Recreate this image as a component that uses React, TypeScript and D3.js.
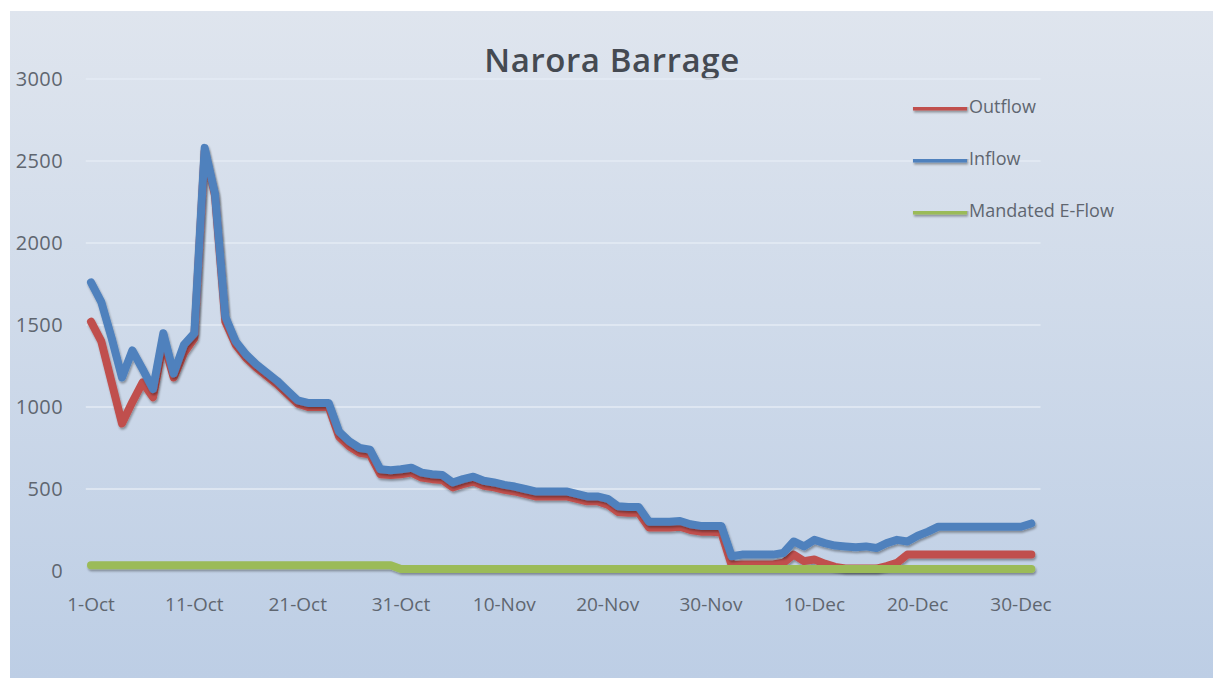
import React from "react";
import * as d3 from "d3";

const title = "Narora Barrage";
const startDate = new Date(2016, 9, 1);
const endDate = new Date(2016, 11, 31);
const dates: Date[] = d3.timeDay.range(startDate, d3.timeDay.offset(endDate, 1));

const xTickLabels = ["1-Oct", "11-Oct", "21-Oct", "31-Oct", "10-Nov", "20-Nov", "30-Nov", "10-Dec", "20-Dec", "30-Dec"];
const xTickDates = [
  new Date(2016, 9, 1), new Date(2016, 9, 11), new Date(2016, 9, 21), new Date(2016, 9, 31),
  new Date(2016, 10, 10), new Date(2016, 10, 20), new Date(2016, 10, 30),
  new Date(2016, 11, 10), new Date(2016, 11, 20), new Date(2016, 11, 30),
];
const yTicks = [0, 500, 1000, 1500, 2000, 2500, 3000];

const outflow = [
  1520, 1400, 1150, 900, 1030, 1150, 1060, 1400, 1180, 1330, 1420, 2560, 2290, 1520,
  1380, 1300, 1240, 1190, 1140, 1080, 1020, 1000, 1000, 1000,
  820, 760, 720, 710, 590, 585, 590, 600,
  570, 560, 555, 510, 530, 545, 520, 510, 495, 485,
  470, 455, 455, 455, 455, 440, 425, 425, 405,
  360, 355, 355, 265, 265, 265, 270, 250, 240, 240, 235,
  35, 40, 40, 40, 40, 50, 100, 60, 70, 45,
  25, 15, 15, 15, 15, 30, 50, 100, 100, 100,
  100, 100, 100, 100, 100, 100, 100, 100, 100, 100,
];

const inflow = [
  1760, 1640, 1420, 1180, 1345, 1230, 1110, 1450, 1205, 1380, 1450,
  2580, 2300, 1550, 1400, 1320, 1260, 1210, 1160, 1100, 1040, 1025, 1025, 1025,
  850, 790, 750, 740, 620, 615, 620, 630,
  600, 590, 585, 540, 560, 575, 550, 540, 525, 515,
  500, 485, 485, 485, 485, 470, 455, 455, 440,
  395, 390, 390, 300, 300, 300, 305, 285, 275, 275, 275,
  90, 100, 100, 100, 100, 110, 180, 150, 190, 170,
  155, 150, 145, 150, 140, 170, 190, 180, 215, 240,
  270, 270, 270, 270, 270, 270, 270, 270, 270, 290,
];

const mandated = [
  35, 35, 35, 35, 35, 35, 35, 35, 35, 35,
  35, 35, 35, 35, 35, 35, 35, 35, 35, 35,
  35, 35, 35, 35, 35, 35, 35, 35, 35, 35,
  12, 12, 12, 12, 12, 12, 12, 12, 12, 12,
  12, 12, 12, 12, 12, 12, 12, 12, 12, 12,
  12, 12, 12, 12, 12, 12, 12, 12, 12, 12,
  12, 12, 12, 12, 12, 12, 12, 12, 12, 12,
  12, 12, 12, 12, 12, 12, 12, 12, 12, 12,
  12, 12, 12, 12, 12, 12, 12, 12, 12, 12,
  12, 12,
];

const seriesNames = ["Outflow", "Inflow", "Mandated E-Flow"];
const seriesColors = ["#c0504d", "#4f81bd", "#9bbb59"];

export default function App() {
  const W = 1213;
  const H = 678;
  const x = d3
    .scaleTime()
    .domain([startDate, d3.timeDay.offset(startDate, 90)])
    .range([91, 1021]);
  const y = d3.scaleLinear().domain([0, 3000]).range([571, 79]);
  const series = [outflow, inflow, mandated];
  const line = d3
    .line<number>()
    .x((_, i) => x(dates[i]))
    .y((v) => y(v));
  const gx0 = x(d3.timeHour.offset(startDate, -12));
  const gx1 = x(d3.timeHour.offset(endDate, 12)) + 4;
  const font = "'Open Sans', 'Liberation Sans', sans-serif";

  return (
    <svg width={W} height={H} style={{ position: "absolute", left: 0, top: 0 }}>
      <defs>
        <linearGradient id="bg" x1="0" y1="0" x2="0" y2="1">
          <stop offset="0%" stopColor="#dfe5ee" />
          <stop offset="100%" stopColor="#bdcee5" />
        </linearGradient>
        <filter id="sh" filterUnits="userSpaceOnUse" x={0} y={0} width={W} height={H}>
          <feDropShadow dx="1" dy="2" stdDeviation="1.2" floodColor="#000" floodOpacity="0.35" />
        </filter>
      </defs>
      <rect x={0} y={0} width={W} height={H} fill="#ffffff" />
      <rect x={10} y={11} width={W - 10} height={H - 11} fill="url(#bg)" />
      <text x={612} y={72} textAnchor="middle" fontFamily={font} fontSize={33} fontWeight={600} letterSpacing={0.6} fill="#454a52">
        {title}
      </text>
      {yTicks.map((t) => (
        <g key={t}>
          {t > 0 && (
            <line x1={gx0} x2={gx1} y1={y(t)} y2={y(t)} stroke="#e4ebf4" strokeWidth={1.5} />
          )}
          <text x={63} y={y(t)} dy="0.35em" textAnchor="end" fontFamily={font} fontSize={20} letterSpacing={0.4} fill="#5f6670">
            {t}
          </text>
        </g>
      ))}
      {xTickDates.map((d, i) => (
        <text key={i} x={x(d)} y={604} dy="0.35em" textAnchor="middle" fontFamily={font} fontSize={19} fill="#5f6670">
          {xTickLabels[i]}
        </text>
      ))}
      {series.map((s, i) => (
        <path
          key={i}
          d={line(s) || ""}
          fill="none"
          stroke={seriesColors[i]}
          strokeWidth={8}
          strokeLinejoin="round"
          strokeLinecap="round"
          filter="url(#sh)"
        />
      ))}
      {seriesNames.map((n, i) => (
        <g key={n} transform={`translate(0, ${107 + i * 52})`}>
          <line x1={913} x2={967} y1={0} y2={0} stroke={seriesColors[i]} strokeWidth={7} filter="url(#sh)" />
          <text x={969} y={0} dy="0.35em" fontFamily={font} fontSize={18} fill="#5f6670">
            {n}
          </text>
        </g>
      ))}
    </svg>
  );
}
